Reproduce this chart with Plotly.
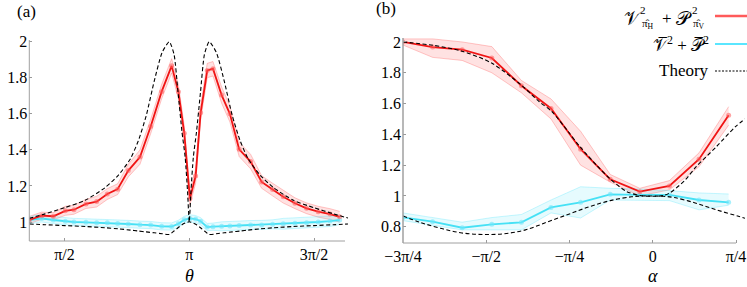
import plotly.graph_objects as go
import math

W, H = 747, 287
def px(x): return x / W
def py(y): return 1 - y / H

# ---------------- Panel (a) data ----------------
theta_a = [1.128, 1.284, 1.430, 1.581, 1.690, 1.841, 1.976, 2.110, 2.240, 2.374, 2.521, 2.656,
           2.794, 2.920, 3.005, 3.079, 3.150, 3.222, 3.285, 3.368, 3.440, 3.549, 3.653, 3.770,
           3.914, 4.053, 4.191, 4.325, 4.472, 4.619, 4.765, 4.913, 5.035]
red_a = [1.011, 1.035, 1.032, 1.062, 1.068, 1.100, 1.113, 1.155, 1.182, 1.285, 1.360, 1.530,
         1.723, 1.866, 1.723, 1.492, 1.130, 1.255, 1.606, 1.840, 1.850, 1.704, 1.600, 1.403,
         1.335, 1.222, 1.180, 1.140, 1.104, 1.076, 1.057, 1.044, 1.029]
red_a_err = [0.02, 0.02, 0.02, 0.025, 0.025, 0.025, 0.03, 0.03, 0.03, 0.035, 0.04, 0.04,
             0.04, 0.04, 0.04, 0.04, 0.035, 0.04, 0.04, 0.04, 0.04, 0.045, 0.045, 0.04,
             0.04, 0.035, 0.035, 0.035, 0.03, 0.03, 0.03, 0.03, 0.03]
cyan_a = [1.011, 1.020, 1.011, 1.004, 1.000, 0.998, 0.996, 0.996, 0.992, 0.989, 0.985, 0.983,
          0.976, 0.975, 0.990, 1.012, 1.020, 1.016, 1.004, 0.972, 0.974, 0.976, 0.978, 0.981,
          0.983, 0.984, 0.987, 0.990, 0.993, 0.996, 1.000, 1.005, 1.011]
cyan_a_err = [0.02, 0.02, 0.02, 0.02, 0.02, 0.02, 0.02, 0.02, 0.02, 0.02, 0.02, 0.02,
              0.02, 0.02, 0.02, 0.02, 0.02, 0.02, 0.02, 0.02, 0.02, 0.025, 0.025, 0.025,
              0.025, 0.025, 0.025, 0.03, 0.03, 0.03, 0.03, 0.03, 0.025]

theory_a_theta = [1.128, 1.325, 1.577, 1.830, 2.080, 2.250, 2.400, 2.500, 2.600, 2.700, 2.800,
                  2.890, 2.950, 3.000, 3.050, 3.090, 3.120, 3.1416,
                  3.163, 3.193, 3.233, 3.283, 3.333, 3.393, 3.483, 3.583, 3.683, 3.783,
                  3.883, 4.033, 4.203, 4.453, 4.706, 4.958, 5.155]
theory_a_red = [1.020, 1.045, 1.080, 1.120, 1.190, 1.260, 1.350, 1.450, 1.590, 1.780, 1.940,
                2.000, 1.930, 1.720, 1.500, 1.360, 1.170, 1.000,
                1.170, 1.360, 1.500, 1.720, 1.930, 2.000, 1.940, 1.780, 1.590, 1.450,
                1.350, 1.260, 1.190, 1.120, 1.080, 1.045, 1.020]
theory_a_cyan = [0.989, 0.985, 0.980, 0.975, 0.968, 0.962, 0.955, 0.950, 0.945, 0.940, 0.935,
                 0.931, 0.950, 0.968, 0.985, 0.994, 0.999, 1.001,
                 0.999, 0.994, 0.985, 0.968, 0.950, 0.931, 0.935, 0.940, 0.945, 0.950,
                 0.955, 0.962, 0.968, 0.975, 0.980, 0.985, 0.989]

xticks_a = [math.pi / 2, math.pi, 3 * math.pi / 2]
xticklabels_a = ["π/2", "π", "3π/2"]
yticks_a = [1, 1.2, 1.4, 1.6, 1.8, 2]
yticklabels_a = ["1", "1.2", "1.4", "1.6", "1.8", "2"]

# ---------------- Panel (b) data ----------------
alpha_deg_b = [-135, -119, -103, -87, -71, -55, -39, -23, -7, 9, 25, 41]
red_b = [2.000, 1.967, 1.950, 1.896, 1.716, 1.568, 1.304, 1.108, 1.028, 1.065, 1.239, 1.525]
red_b_hi = [2.02, 2.02, 2.00, 1.97, 1.75, 1.63, 1.42, 1.14, 1.05, 1.10, 1.28, 1.58]
red_b_lo = [1.98, 1.90, 1.88, 1.80, 1.67, 1.50, 1.20, 1.09, 1.00, 1.04, 1.19, 1.46]
cyan_b = [0.861, 0.833, 0.794, 0.816, 0.829, 0.926, 0.959, 1.011, 1.007, 1.007, 0.974, 0.959]
cyan_b_hi = [0.89, 0.86, 0.83, 0.86, 0.88, 0.974, 1.06, 1.05, 1.045, 1.035, 1.02, 1.013]
cyan_b_lo = [0.84, 0.81, 0.78, 0.78, 0.78, 0.89, 0.857, 0.974, 0.97, 0.97, 0.91, 0.94]

theory_b_alpha = [-2.356, -2.07, -1.80, -1.52, -1.24, -1.07, -0.955, -0.80, -0.687, -0.53,
                  -0.40, -0.25, -0.12, 0.0, 0.10, 0.16, 0.30, 0.41, 0.60, 0.78, 0.87]
theory_b_red = [2.000, 1.978, 1.940, 1.863, 1.720, 1.612, 1.550, 1.420, 1.320, 1.200,
                1.110, 1.030, 1.003, 0.998, 1.003, 1.020, 1.100, 1.190, 1.320, 1.450, 1.500]
theory_b_cyan_alpha = [-2.356, -2.2, -2.0, -1.8, -1.6, -1.4, -1.2, -1.0, -0.8, -0.6, -0.4, -0.2,
                       -0.1, 0.0, 0.1, 0.2, 0.4, 0.6, 0.8, 0.87]
theory_b_cyan = [0.87, 0.83, 0.79, 0.76, 0.75, 0.755, 0.78, 0.83, 0.88, 0.93, 0.97, 0.995,
                 1.0, 1.0, 0.998, 0.99, 0.955, 0.91, 0.87, 0.855]

xticks_b = [-3 * math.pi / 4, -math.pi / 2, -math.pi / 4, 0, math.pi / 4]
xticklabels_b = ["−3π/4", "−π/2", "−π/4", "0", "π/4"]
yticks_b = [0.8, 1, 1.2, 1.4, 1.6, 1.8, 2]
yticklabels_b = ["0.8", "1", "1.2", "1.4", "1.6", "1.8", "2"]

# legend entry 1 is typeset piecewise (stacked super/subscripts)
legend1_parts = ["𝒱", "2", "π̂<sub>H</sub>", "+", "𝒫", "2", "π̂<sub>V</sub>"]
legend_labels = ["𝒱̅<sup>2</sup> + 𝒫̅<sup>2</sup>", "Theory"]

# ---------------- styles ----------------
RED = "rgb(240,20,20)"
RED_EDGE = "rgba(255,60,60,0.35)"
RED_FILL = "rgba(255,60,60,0.15)"
RED_MK = "rgba(255,90,90,0.55)"
CY = "rgb(70,225,245)"
CY_EDGE = "rgba(60,225,250,0.35)"
CY_FILL = "rgba(60,225,250,0.13)"
CY_MK = "rgba(110,230,250,0.6)"
FONT = "Liberation Serif"

fig = go.Figure()

def band(x, hi, lo, edge, fill, xa, ya):
    fig.add_trace(go.Scatter(x=x, y=hi, mode="lines", line=dict(color=edge, width=0.8),
                             xaxis=xa, yaxis=ya, showlegend=False, hoverinfo="skip"))
    fig.add_trace(go.Scatter(x=x, y=lo, mode="lines", line=dict(color=edge, width=0.8),
                             fill="tonexty", fillcolor=fill,
                             xaxis=xa, yaxis=ya, showlegend=False, hoverinfo="skip"))

def series(x, y, col, mk, xa, ya):
    fig.add_trace(go.Scatter(x=x, y=y, mode="lines+markers",
                             line=dict(color=col, width=1.8),
                             marker=dict(size=5, color=mk),
                             xaxis=xa, yaxis=ya, showlegend=False))

def theory(x, y, xa, ya, smooth=1.0):
    fig.add_trace(go.Scatter(x=x, y=y, mode="lines",
                             line=dict(color="black", width=1.1, dash="4px,2.5px",
                                       shape="spline", smoothing=smooth),
                             xaxis=xa, yaxis=ya, showlegend=False))

# panel a
band(theta_a, [v + e for v, e in zip(red_a, red_a_err)], [v - e for v, e in zip(red_a, red_a_err)],
     RED_EDGE, RED_FILL, "x", "y")
band(theta_a, [v + e for v, e in zip(cyan_a, cyan_a_err)], [v - e for v, e in zip(cyan_a, cyan_a_err)],
     CY_EDGE, CY_FILL, "x", "y")
series(theta_a, cyan_a, CY, CY_MK, "x", "y")
series(theta_a, red_a, RED, RED_MK, "x", "y")
theory(theory_a_theta, theory_a_red, "x", "y", 0.6)
theory(theory_a_theta, theory_a_cyan, "x", "y", 0.8)

# panel b
alpha_b = [math.radians(a) for a in alpha_deg_b]
band(alpha_b, red_b_hi, red_b_lo, RED_EDGE, RED_FILL, "x2", "y2")
band(alpha_b, cyan_b_hi, cyan_b_lo, CY_EDGE, CY_FILL, "x2", "y2")
series(alpha_b, cyan_b, CY, CY_MK, "x2", "y2")
series(alpha_b, red_b, RED, RED_MK, "x2", "y2")
theory(theory_b_alpha, theory_b_red, "x2", "y2", 0.8)
theory(theory_b_cyan_alpha, theory_b_cyan, "x2", "y2")

# geometry
xa_dom = [px(29.3), px(348)]
ya_dom = [py(241), py(38.1)]
xb_dom = [px(403), px(745)]
yb_dom = [py(243), py(35.8)]

axis_common = dict(showgrid=False, zeroline=False, showline=False, ticks="inside", ticklen=3,
                   tickcolor="#999", automargin=False,
                   tickfont=dict(family=FONT, size=16, color="black"))

fig.update_layout(
    width=W, height=H, margin=dict(l=0, r=0, t=0, b=0),
    paper_bgcolor="white", plot_bgcolor="white",
    xaxis=dict(domain=xa_dom, range=[1.128, 5.14], tickvals=xticks_a, ticktext=xticklabels_a,
               anchor="y", ticklabelstandoff=2, **axis_common),
    yaxis=dict(domain=ya_dom, range=[0.8946, 2.02], tickvals=yticks_a, ticktext=yticklabels_a,
               anchor="x", ticklabelstandoff=1, **axis_common),
    xaxis2=dict(domain=xb_dom, range=[-3 * math.pi / 4, 0.87], tickvals=xticks_b, ticktext=xticklabels_b,
                anchor="y2", ticklabelstandoff=2, **axis_common),
    yaxis2=dict(domain=yb_dom, range=[0.6948, 2.04], tickvals=yticks_b, ticktext=yticklabels_b,
                anchor="x2", ticklabelstandoff=1, **axis_common),
    showlegend=False,
)

line_col = "#a0a0a0"
shapes = [
    dict(type="line", xref="paper", yref="paper", x0=px(29.3), x1=px(345), y0=py(241), y1=py(241),
         line=dict(color=line_col, width=1)),
    dict(type="line", xref="paper", yref="paper", x0=px(29.3), x1=px(29.3), y0=py(241), y1=py(40),
         line=dict(color=line_col, width=1)),
    dict(type="line", xref="paper", yref="paper", x0=px(403), x1=px(736), y0=py(243), y1=py(243),
         line=dict(color=line_col, width=1)),
    dict(type="line", xref="paper", yref="paper", x0=px(403), x1=px(403), y0=py(243), y1=py(38),
         line=dict(color=line_col, width=1.5)),
    # legend swatches
    dict(type="line", xref="paper", yref="paper", x0=px(715), x1=px(747), y0=py(16), y1=py(16),
         line=dict(color="rgb(255,90,90)", width=2.5)),
    dict(type="line", xref="paper", yref="paper", x0=px(715), x1=px(747), y0=py(44), y1=py(44),
         line=dict(color="rgb(90,230,255)", width=2)),
    dict(type="line", xref="paper", yref="paper", x0=px(715), x1=px(747), y0=py(71), y1=py(71),
         line=dict(color="black", width=1.1, dash="2px,1.5px")),
]
fig.update_layout(shapes=shapes)

def ann(text, x, y, size=16, xanchor="center"):
    return dict(text=text, x=px(x), y=py(y), xref="paper", yref="paper", showarrow=False,
                xanchor=xanchor, yanchor="middle",
                font=dict(family=FONT, size=size, color="black"))

annotations = [
    ann("(a)", 26, 11, 17),
    ann("(b)", 386, 9, 17),
    ann("<i>θ</i>", 189, 276, 18),
    ann("<i>α</i>", 653, 276, 18),
]
# legend entry 1, stacked scripts
l1_pos = [(633, 18, 19), (643, 10, 11), (648, 24, 11), (667, 18, 17),
          (684, 18, 19), (695, 10, 11), (699, 24, 11)]
for part, (xx, yy, ss) in zip(legend1_parts, l1_pos):
    annotations.append(ann(part, xx, yy, ss))
annotations.append(ann(legend_labels[0], 711, 44, 17, "right"))
annotations.append(ann(legend_labels[1], 711, 71, 17, "right"))
fig.update_layout(annotations=annotations)

fig.write_html("out.html", config={"displayModeBar": False},
               post_script="document.body.style.margin='0';document.body.style.overflow='hidden';")
